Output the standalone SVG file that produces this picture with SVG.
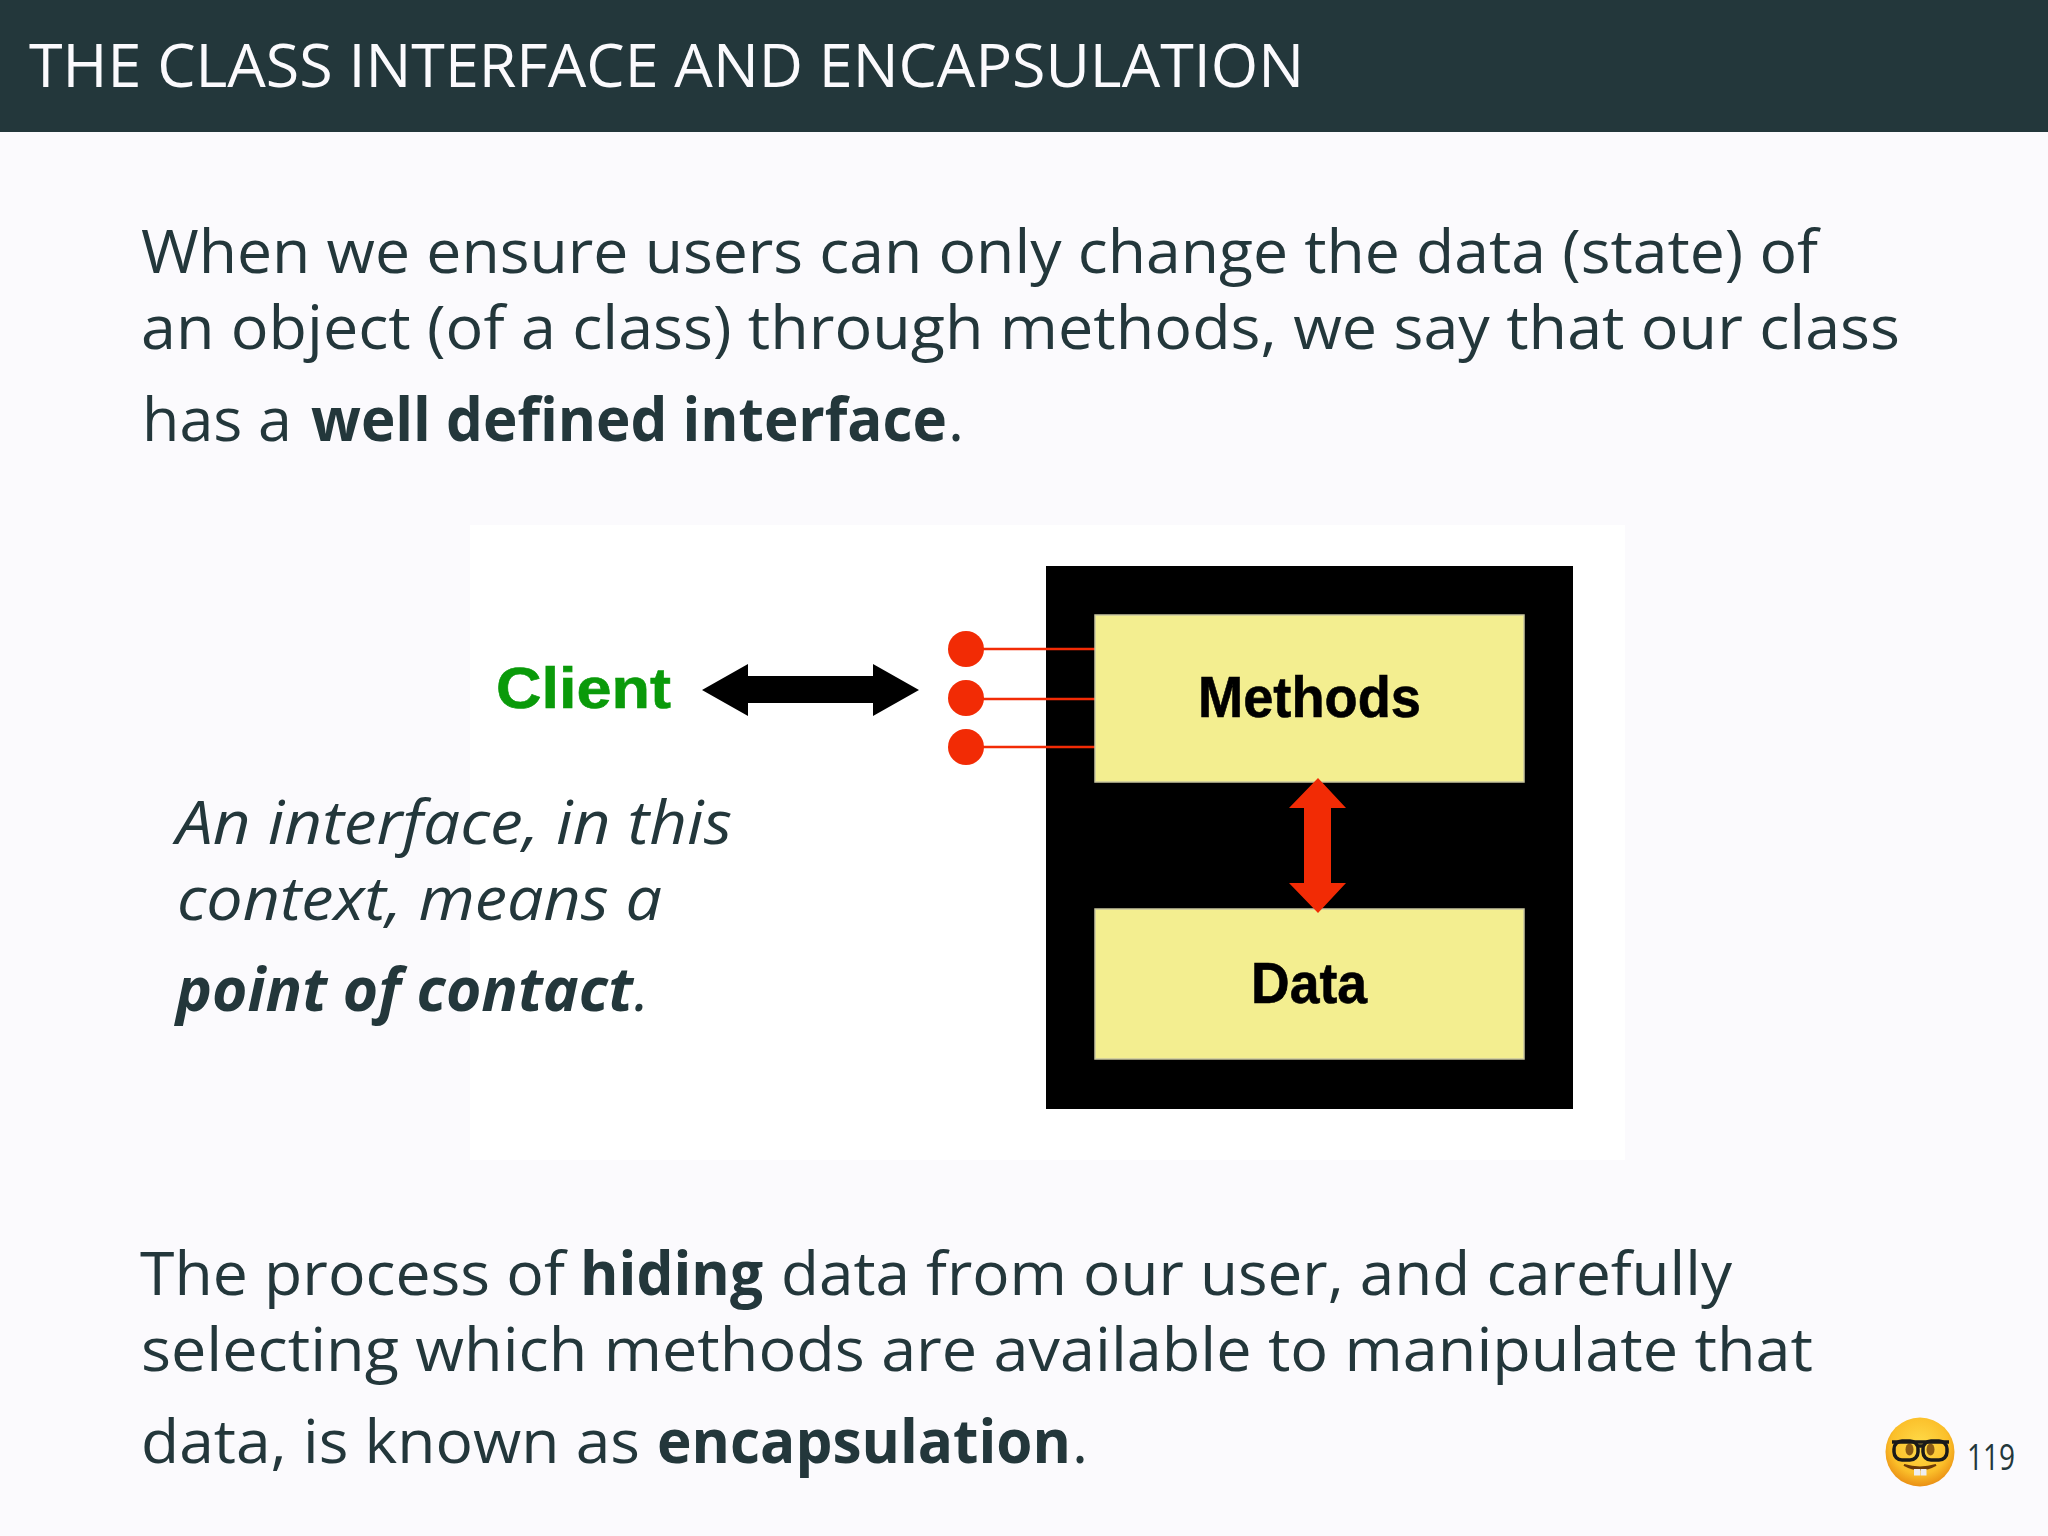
<svg xmlns="http://www.w3.org/2000/svg" width="2048" height="1536" viewBox="0 0 2048 1536">
<defs>
<style>
.t{font-family:"Open Sans","Noto Sans","Liberation Sans",sans-serif;font-size:61px;fill:#23373b}
.b{font-weight:700}
.i{font-style:italic}
.d{font-family:"Liberation Sans",Arial,sans-serif;font-weight:700;font-size:57px;fill:#000;stroke:#000;stroke-width:.6}
.w{stroke:#f22b05;stroke-width:2.5}
.y{fill:#f3ee90;stroke:#c9c6a0;stroke-width:1.5}
</style>
<radialGradient id="face" cx="50%" cy="40%" r="60%"><stop offset="0" stop-color="#ffdc4a"/><stop offset="0.7" stop-color="#fbbf2a"/><stop offset="1" stop-color="#ea8f14"/></radialGradient>
</defs>
<rect width="2048" height="1536" fill="#fbfafd"/>
<rect id="header" width="2048" height="132" fill="#23373b"/>
<text class="t" x="29" y="87" textLength="1275" lengthAdjust="spacingAndGlyphs" style="fill:#fbfafd">THE CLASS INTERFACE AND ENCAPSULATION</text>
<g id="intro">
<text class="t" x="141" y="273" textLength="1677" lengthAdjust="spacingAndGlyphs">When we ensure users can only change the data (state) of</text>
<text class="t" x="141" y="349" textLength="1759" lengthAdjust="spacingAndGlyphs">an object (of a class) through methods, we say that our class</text>
<text class="t" x="142" y="441" textLength="150" lengthAdjust="spacingAndGlyphs">has a</text>
<text class="t b" x="311" y="441" textLength="636" lengthAdjust="spacingAndGlyphs">well defined interface</text>
<text class="t" x="948" y="441">.</text>
</g>
<rect id="figure" x="470" y="525" width="1155" height="635" fill="#fff"/>
<g id="connectors">
<line class="w" x1="966" y1="649" x2="1095" y2="649"/>
<line class="w" x1="966" y1="699" x2="1095" y2="699"/>
<line class="w" x1="966" y1="747" x2="1095" y2="747"/>
<polygon points="702,690 748,664 748,676 873,676 873,664 919,690 873,716 873,703 748,703 748,716" fill="#000"/>
</g>
<g id="client"><text class="d" x="496" y="708" textLength="175" lengthAdjust="spacingAndGlyphs" style="fill:#0a9a0a;stroke:#0a9a0a">Client</text></g>
<g id="port1"><circle cx="966" cy="649" r="18" fill="#f22b05"/></g>
<g id="port2"><circle cx="966" cy="698" r="18" fill="#f22b05"/></g>
<g id="port3"><circle cx="966" cy="747" r="18" fill="#f22b05"/></g>
<g id="class-box"><rect x="1046" y="566" width="527" height="543" fill="#000"/></g>
<g id="connector-lines-inner">
<line class="w" x1="1046" y1="649" x2="1095" y2="649"/>
<line class="w" x1="1046" y1="699" x2="1095" y2="699"/>
<line class="w" x1="1046" y1="747" x2="1095" y2="747"/>
</g>
<g id="methods"><rect class="y" x="1095" y="615" width="429" height="167"/>
<text class="d" x="1198" y="717" textLength="223" lengthAdjust="spacingAndGlyphs">Methods</text></g>
<g id="data"><rect class="y" x="1095" y="909" width="429" height="150"/>
<text class="d" x="1251" y="1003" textLength="116" lengthAdjust="spacingAndGlyphs">Data</text></g>
<g id="connector-red"><polygon points="1318,778 1346,808 1331,808 1331,883 1346,883 1318,913 1289,883 1304,883 1304,808 1289,808" fill="#f22b05"/></g>
<g id="note">
<text class="t i" x="176" y="844" textLength="556" lengthAdjust="spacingAndGlyphs">An interface, in this</text>
<text class="t i" x="177" y="920" textLength="485" lengthAdjust="spacingAndGlyphs">context, means a</text>
<text class="t b i" x="176" y="1011" textLength="457" lengthAdjust="spacingAndGlyphs">point of contact</text>
<text class="t i" x="634" y="1011">.</text>
</g>
<g id="outro">
<text class="t" x="140" y="1295" textLength="425" lengthAdjust="spacingAndGlyphs">The process of</text>
<text class="t b" x="580" y="1295" textLength="183" lengthAdjust="spacingAndGlyphs">hiding</text>
<text class="t" x="781" y="1295" textLength="951" lengthAdjust="spacingAndGlyphs">data from our user, and carefully</text>
<text class="t" x="141" y="1371" textLength="1672" lengthAdjust="spacingAndGlyphs">selecting which methods are available to manipulate that</text>
<text class="t" x="141" y="1463" textLength="499" lengthAdjust="spacingAndGlyphs">data, is known as</text>
<text class="t b" x="657" y="1463" textLength="414" lengthAdjust="spacingAndGlyphs">encapsulation</text>
<text class="t" x="1072" y="1463">.</text>
</g>
<g id="emoji">
<circle cx="1920" cy="1452" r="34.5" fill="url(#face)"/>
<ellipse cx="1909.500" cy="1449.500" rx="4" ry="6" fill="#8a5a14"/>
<ellipse cx="1930.500" cy="1449.500" rx="4" ry="6" fill="#8a5a14"/>
<rect x="1894" y="1441" width="24" height="19" rx="8" fill="none" stroke="#1a1a1a" stroke-width="3.500"/>
<rect x="1923" y="1441" width="24" height="19" rx="8" fill="none" stroke="#1a1a1a" stroke-width="3.500"/>
<path d="M1892 1442L1949 1442M1917 1446L1924 1446" stroke="#1a1a1a" stroke-width="3.500" fill="none"/>
<path d="M1904 1465Q1920 1474 1936 1465Q1920 1470 1904 1465Z" fill="#6b3a08" stroke="#6b3a08" stroke-width="2"/>
<rect x="1914" y="1469" width="6" height="6.500" fill="#eee"/>
<rect x="1920.500" y="1469" width="6" height="6.500" fill="#eee"/>
</g>
<text id="page" x="1967" y="1470" textLength="48" lengthAdjust="spacingAndGlyphs" style="font-family:'Open Sans','Noto Sans',sans-serif;font-size:36px;fill:#23373b">119</text>
</svg>
